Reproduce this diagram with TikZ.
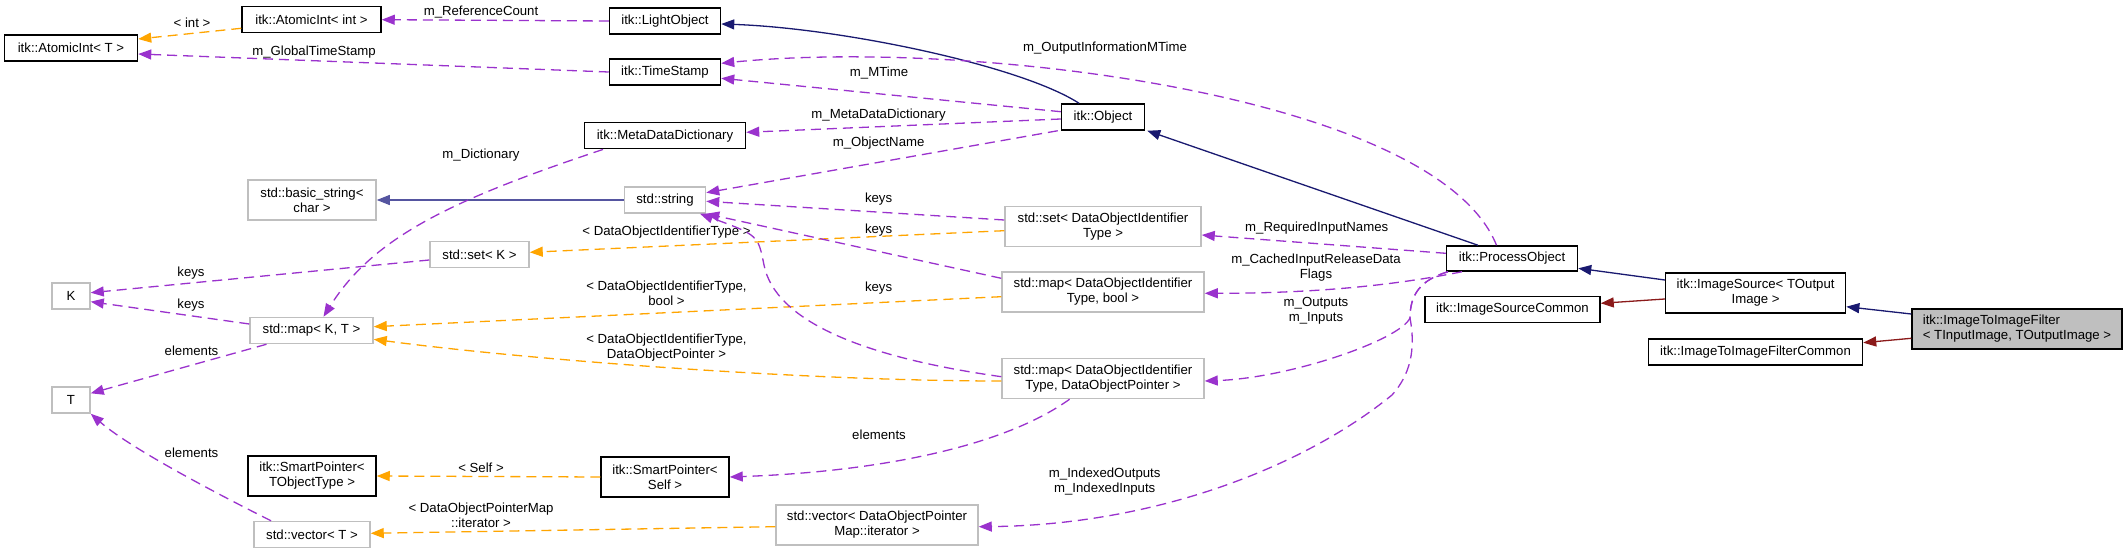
\documentclass[tikz,border=0pt]{standalone}
\usepackage{fontspec}
\setmainfont{Liberation Sans}
\usetikzlibrary{arrows.meta}
\definecolor{memcol}{RGB}{154,50,205}
\definecolor{tplcol}{RGB}{255,165,0}
\definecolor{inhcol}{RGB}{25,25,112}
\definecolor{prvcol}{RGB}{139,26,26}
\definecolor{strcol}{RGB}{85,85,160}
\definecolor{extcol}{RGB}{191,191,191}

\begin{document}
\begin{tikzpicture}[x=1pt,y=-1pt,line width=1.3pt,>={Triangle[length=13pt,width=10pt]},
  every node/.style={font=\fontsize{13.2}{15}\selectfont,inner sep=0pt,align=center},
  cls/.style={draw=black,fill=white,line width=1.5pt},
  ext/.style={draw=extcol,fill=white,line width=1.5pt},
  mem/.style={->,memcol,dash pattern=on 10pt off 6pt},
  tpl/.style={->,tplcol,dash pattern=on 10pt off 6pt},
  inh/.style={->,inhcol},
  prv/.style={->,prvcol}]
  \useasboundingbox (0,0) rectangle (2128,553);
  \fill[white] (0,0) rectangle (2128,553);
  % classes
  \node[cls,minimum width=133pt,minimum height=26pt] (atomT) at (71,48) {itk::AtomicInt< T >};
  \node[cls,minimum width=139pt,minimum height=26pt] (atomInt) at (311.5,19.7) {itk::AtomicInt< int >};
  \node[cls,minimum width=111pt,minimum height=26pt] (light) at (665,21) {itk::LightObject};
  \node[cls,minimum width=111pt,minimum height=26pt] (stamp) at (665,72) {itk::TimeStamp};
  \node[cls,minimum width=161pt,minimum height=26pt] (mdd) at (665,135.7) {itk::MetaDataDictionary};
  \node[cls,minimum width=83pt,minimum height=26pt] (object) at (1103,117) {itk::Object};
  \node[ext,minimum width=128pt,minimum height=40pt] (basicstr) at (312,200) {std::basic\_string<\\char >};
  \node[ext,minimum width=81pt,minimum height=26pt] (string) at (665,200) {std::string};
  \node[ext,minimum width=99pt,minimum height=26pt] (setK) at (479.5,254.7) {std::set< K >};
  \node[ext,minimum width=38pt,minimum height=26pt] (K) at (71,296) {K};
  \node[ext,minimum width=123pt,minimum height=26pt] (mapKT) at (311.5,330.5) {std::map< K, T >};
  \node[ext,minimum width=38pt,minimum height=26pt] (T) at (71,400) {T};
  \node[cls,minimum width=128pt,minimum height=40pt] (spTO) at (312,476) {itk::SmartPointer<\\TObjectType >};
  \node[cls,minimum width=128pt,minimum height=40pt] (spSelf) at (665,477) {itk::SmartPointer<\\Self >};
  \node[ext,minimum width=116pt,minimum height=26pt] (vecT) at (312,534.5) {std::vector< T >};
  \node[ext,minimum width=196pt,minimum height=40pt] (setDOI) at (1103,226.7) {std::set< DataObjectIdentifier\\Type >};
  \node[ext,minimum width=202pt,minimum height=40pt] (mapBool) at (1103,292) {std::map< DataObjectIdentifier\\Type, bool >};
  \node[ext,minimum width=202pt,minimum height=40pt] (mapDOP) at (1103,378.5) {std::map< DataObjectIdentifier\\Type, DataObjectPointer >};
  \node[ext,minimum width=202pt,minimum height=40pt] (vecDOP) at (877,525) {std::vector< DataObjectPointer\\Map::iterator >};
  \node[cls,minimum width=131pt,minimum height=25pt] (proc) at (1512,258.5) {itk::ProcessObject};
  \node[cls,minimum width=180pt,minimum height=40pt] (imgSrc) at (1755.6,293) {itk::ImageSource< TOutput\\Image >};
  \node[cls,minimum width=175pt,minimum height=26pt] (imgSrcC) at (1512.5,309.5) {itk::ImageSourceCommon};
  \node[cls,fill=extcol,minimum width=210pt,minimum height=40pt,align=left] (filt) at (2017,329) {itk::ImageToImageFilter\\< TInputImage, TOutputImage >};
  \node[cls,minimum width=214pt,minimum height=26pt] (filtC) at (1755.5,352) {itk::ImageToImageFilterCommon};
  % etiquetas
  \node (lInt) at (192,22.7) {< int >};
  \node (lRef) at (481,11.7) {m\_ReferenceCount};
  \node (lGlob) at (314,51.7) {m\_GlobalTimeStamp};
  \node (lOutMT) at (1105,47.7) {m\_OutputInformationMTime};
  \node (lMT) at (879,72.7) {m\_MTime};
  \node (lMDD) at (878.6,114.7) {m\_MetaDataDictionary};
  \node (lName) at (878.6,142.7) {m\_ObjectName};
  \node (lDict) at (481,155) {m\_Dictionary};
  \node (lKeysA) at (878.6,199) {keys};
  \node (lKeysB) at (878.6,230) {keys};
  \node (lKeysC) at (878.6,287.7) {keys};
  \node (lSetT) at (666.5,232.3) {< DataObjectIdentifierType >};
  \node (lBoolT) at (666.5,293.4) {< DataObjectIdentifierType,\\bool >};
  \node (lPtrT) at (666.5,347.2) {< DataObjectIdentifierType,\\DataObjectPointer >};
  \node (lElem) at (879,434.7) {elements};
  \node (lSelf) at (481,467.7) {< Self >};
  \node (lIter) at (481,515) {< DataObjectPointerMap\\::iterator >};
  \node (lKeysK) at (191,272.7) {keys};
  \node (lKeysM) at (191,304.7) {keys};
  \node (lElemM) at (191.5,350.7) {elements};
  \node (lElemV) at (191.5,452.7) {elements};
  \node (lReq) at (1316.7,227.7) {m\_RequiredInputNames};
  \node (lCache) at (1316,267.5) {m\_CachedInputReleaseData\\Flags};
  \node (lIO) at (1316,311) {m\_Outputs\\m\_Inputs};
  \node (lIdx) at (1104.7,481.7) {m\_IndexedOutputs\\m\_IndexedInputs};
  \coordinate (fork) at (1410,318);
  % herencia
  \draw[inh] ([xshift=-24pt]object.north) .. controls +(-59,-38) and +(119,4) .. ([yshift=-3pt]light.east);
  \draw[inh] ([xshift=-34pt]proc.north) -- ([xshift=2pt]object.south east);
  \draw[inh,strcol] (string.west) -- (basicstr.east);
  \draw[inh] ([yshift=13pt]imgSrc.west) -- ([yshift=-9.8pt]proc.east);
  \draw[prv] ([yshift=-6pt]imgSrc.west) -- ([yshift=6.2pt]imgSrcC.east);
  \draw[inh] ([yshift=15pt]filt.west) -- ([yshift=-13.7pt]imgSrc.east);
  \draw[prv] ([yshift=-9.3pt]filt.west) -- ([yshift=9.3pt]filtC.east);
  % plantillas
  \draw[tpl] ([yshift=-8.6pt]atomInt.west) -- ([yshift=9pt]atomT.east);
  \draw[tpl] ([yshift=-4pt]setDOI.west) -- ([yshift=2.4pt]setK.east);
  \draw[tpl] ([yshift=-4.7pt]mapBool.west) -- ([yshift=3.8pt]mapKT.east);
  \draw[tpl] ([yshift=-2.5pt]mapDOP.west) .. controls +(-200,0) and +(150,20) .. ([yshift=-8.8pt]mapKT.east);
  \draw[tpl] (spSelf.west) -- (spTO.east);
  \draw[tpl] ([yshift=-1.7pt]vecDOP.west) -- ([yshift=1.2pt]vecT.east);
  % miembros
  \draw[mem] (light.west) -- (atomInt.east);
  \draw[mem] (stamp.west) -- ([yshift=-6pt]atomT.east);
  \draw[mem] ([yshift=5.3pt]object.west) -- ([yshift=-6.3pt]stamp.east);
  \draw[mem] ([xshift=-15.5pt]proc.north) .. controls +(-60,-150) and +(250,-25) .. ([yshift=8.7pt]stamp.east);
  \draw[mem] ([yshift=-2pt]object.west) -- ([yshift=3.4pt]mdd.east);
  \draw[mem] ([xshift=-3pt]object.south west) -- ([yshift=7.3pt]string.east);
  \draw[mem] ([xshift=-62pt]mdd.south) .. controls +(-150,50) and +(50,-80) .. ([xshift=12pt]mapKT.north);
  \draw[mem] ([yshift=6.7pt]setDOI.west) -- ([yshift=-1.3pt]string.east);
  \draw[mem] ([yshift=13.7pt]mapBool.west) -- (string.south east);
  \draw[mem] ([yshift=1.8pt]mapDOP.west) .. controls +(-142,-20) and (775,320) .. (764,265) .. controls (758,235) .. ([xshift=35pt]string.south);
  \draw[mem] ([xshift=-33.4pt]mapDOP.south) .. controls +(-70,50) and +(140,-5) .. (spSelf.east);
  \draw[mem] ([yshift=-5.3pt]setK.west) -- ([yshift=3.3pt]K.east);
  \draw[mem] ([yshift=6.5pt]mapKT.west) -- ([yshift=-5.7pt]K.east);
  \draw[mem] ([xshift=-45pt]mapKT.south) -- ([yshift=6.7pt]T.east);
  \draw[mem] ([xshift=-41pt]vecT.north) .. controls +(-50,-25) and +(40,35) .. (T.south east);
  \draw[mem] ([yshift=5.2pt]proc.west) -- ([yshift=-8.3pt]setDOI.east);
  \draw[mem] ([xshift=-50pt]proc.south) .. controls +(-60,12) and +(120,0) .. ([yshift=-1.3pt]mapBool.east);
  \draw[mem] ([xshift=-64pt]proc.south) .. controls (1420,280) and (1410,295) .. (fork) .. controls (1400,340) and (1290,378) .. ([yshift=-2.5pt]mapDOP.east);
  \draw[mem] ([xshift=-64pt]proc.south) .. controls (1420,280) and (1410,295) .. (fork) .. controls (1416,350) and (1410,375) .. (1392,395) .. controls (1300,470) and (1150,525) .. ([yshift=-1.7pt]vecDOP.east);
\end{tikzpicture}
\end{document}
